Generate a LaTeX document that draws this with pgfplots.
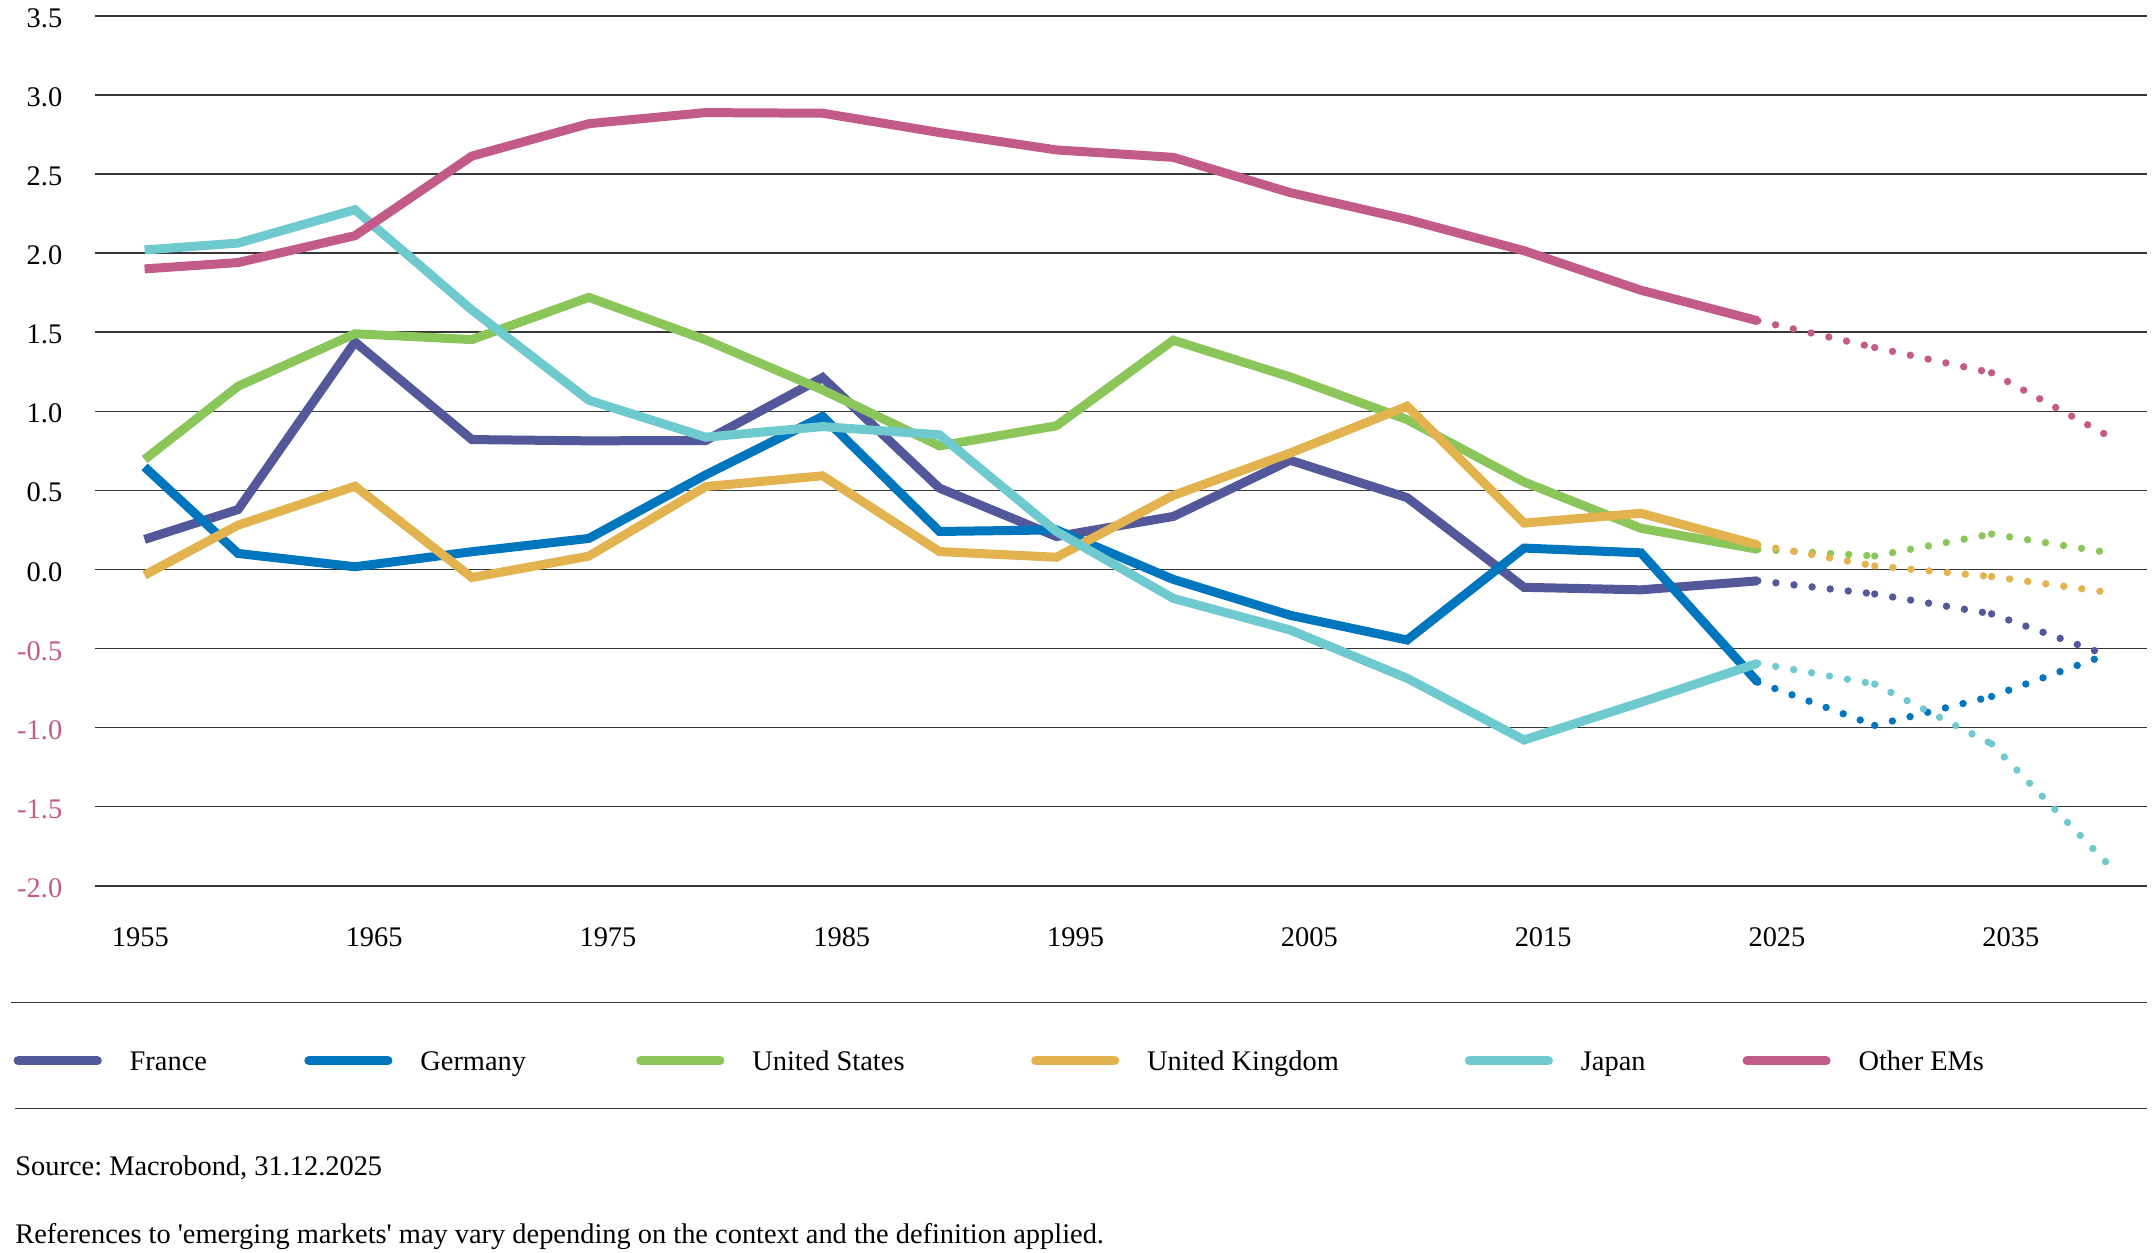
\documentclass[border=0pt]{standalone}
\usepackage{fontspec}
\setmainfont{Liberation Serif}
\usepackage{pgfplots}
\pgfplotsset{compat=1.18}
\definecolor{cfr}{RGB}{82,88,154}
\definecolor{cde}{RGB}{0,118,190}
\definecolor{cus}{RGB}{139,198,90}
\definecolor{cuk}{RGB}{226,179,78}
\definecolor{cjp}{RGB}{111,202,208}
\definecolor{cem}{RGB}{194,91,136}
\definecolor{neg}{RGB}{194,91,136}
\definecolor{gridc}{RGB}{55,55,55}
\newcommand\fs{\fontsize{14.2bp}{17bp}\selectfont}
\newcommand\lent[2]{\makebox[#1][l]{\raisebox{0pt}[0.66em][0pt]{#2}}}
\pgfplotsset{
  solidl/.style={line width=4.5bp},
  proj/.style={line width=3.7bp, line cap=round, dash pattern=on 0bp off 9.1bp, unbounded coords=jump, forget plot},
}
\frenchspacing
\begin{document}
\frenchspacing
\begin{tikzpicture}[font=\fs]
\path[use as bounding box] (-47.5bp,-183.6bp) rectangle (1029.5bp,442.9bp);
\begin{axis}[
  at={(0bp,0bp)}, anchor=south west,
  scale only axis, width=1026bp, height=435bp,
  xmin=1953.88, xmax=2041.65, ymin=-2, ymax=3.5,
  axis line style={draw=none},
  major tick length=0pt,
  ymajorgrids, grid style={line width=0.75bp, color=gridc},
  xtick={1955.82,1965.82,1975.82,1985.82,1995.82,2005.82,2015.82,2025.82,2035.82},
  xticklabels={1955,1965,1975,1985,1995,2005,2015,2025,2035},
  ytick={-2,-1.5,-1,-0.5,0,0.5,1,1.5,2,2.5,3,3.5},
  yticklabels={{\color{neg}-2.0},{\color{neg}-1.5},{\color{neg}-1.0},{\color{neg}-0.5},0.0,0.5,1.0,1.5,2.0,2.5,3.0,3.5},
  tick label style={font=\fs},
  xticklabel style={anchor=base, inner sep=0pt, yshift=-30.5bp},
  yticklabel style={anchor=east, inner sep=0pt, xshift=-16.2bp, yshift=-1.2bp},
  legend columns=6,
  legend cell align=left,
  legend style={at={(rel axis cs:0,0)}, anchor=west, xshift=-40.9bp, yshift=-87.45bp,
    draw=none, fill=none, inner sep=0pt, column sep=0pt, row sep=0pt,
    nodes={inner sep=0pt, text depth=0pt}, font=\fs},
  legend image code/.code={\draw[#1, line width=4.6bp, line cap=round, solid] (0bp,0bp) -- (39.5bp,0bp); \path (53.5bp,0bp);},
]
% France
\addplot[cfr, solidl] coordinates {(1956,0.19) (1960,0.379) (1965,1.438) (1970,0.821) (1975,0.813) (1980,0.815) (1985,1.213) (1990,0.514) (1995,0.208) (2000,0.335) (2005,0.69) (2010,0.454) (2015,-0.113) (2020,-0.129) (2025,-0.072)};
\addlegendentry{\lent{87.3bp}{France}}
% Germany
\addplot[cde, solidl] coordinates {(1956,0.648) (1960,0.101) (1965,0.017) (1970,0.112) (1975,0.196) (1980,0.598) (1985,0.967) (1990,0.24) (1995,0.25) (2000,-0.063) (2005,-0.29) (2010,-0.446) (2015,0.135) (2020,0.105) (2025,-0.713)};
\addlegendentry{\lent{107.9bp}{Germany}}
% United States
\addplot[cus, solidl] coordinates {(1956,0.695) (1960,1.158) (1965,1.49) (1970,1.453) (1975,1.72) (1980,1.451) (1985,1.135) (1990,0.781) (1995,0.908) (2000,1.449) (2005,1.217) (2010,0.947) (2015,0.553) (2020,0.26) (2025,0.127)};
\addlegendentry{\lent{139.4bp}{United States}}
% United Kingdom
\addplot[cuk, solidl] coordinates {(1956,-0.036) (1960,0.28) (1965,0.526) (1970,-0.051) (1975,0.084) (1980,0.524) (1985,0.592) (1990,0.113) (1995,0.077) (2000,0.468) (2005,0.736) (2010,1.032) (2015,0.293) (2020,0.355) (2025,0.155)};
\addlegendentry{\lent{158.8bp}{United Kingdom}}
% Japan
\addplot[cjp, solidl] coordinates {(1956,2.02) (1960,2.063) (1965,2.274) (1970,1.64) (1975,1.07) (1980,0.836) (1985,0.903) (1990,0.851) (1995,0.24) (2000,-0.183) (2005,-0.383) (2010,-0.688) (2015,-1.078) (2020,-0.84) (2025,-0.593)};
\addlegendentry{\lent{80.8bp}{Japan}}
% Other EMs
\addplot[cem, solidl] coordinates {(1956,1.90) (1960,1.94) (1965,2.11) (1970,2.613) (1975,2.818) (1980,2.888) (1985,2.884) (1990,2.762) (1995,2.652) (2000,2.605) (2005,2.382) (2010,2.213) (2015,2.015) (2020,1.765) (2025,1.572)};
\addlegendentry{\lent{70bp}{Other EMs}}
% projections (dotted)
\addplot[cfr, proj] coordinates {(2025,-0.072) (2030,-0.155) (2030,nan) (2030,-0.155) (2035,-0.281) (2035,nan) (2035,-0.281) (2040,-0.545)};
\addplot[cde, proj] coordinates {(2025,-0.713) (2030,-0.986) (2030,nan) (2030,-0.986) (2035,-0.803) (2035,nan) (2035,-0.803) (2040,-0.535)};
\addplot[cus, proj] coordinates {(2025,0.127) (2030,0.085) (2030,nan) (2030,0.085) (2035,0.224) (2035,nan) (2035,0.224) (2040,0.106)};
\addplot[cuk, proj] coordinates {(2025,0.155) (2030,0.022) (2030,nan) (2030,0.022) (2035,-0.045) (2035,nan) (2035,-0.045) (2040,-0.145)};
\addplot[cjp, proj] coordinates {(2025,-0.593) (2030,-0.725) (2030,nan) (2030,-0.725) (2035,-1.103) (2035,nan) (2035,-1.103) (2040,-1.867)};
\addplot[cem, proj] coordinates {(2025,1.572) (2030,1.403) (2030,nan) (2030,1.403) (2035,1.243) (2035,nan) (2035,1.243) (2040,0.843)};
\end{axis}
\draw[line width=0.75bp, gridc] (-42bp,-58.45bp) -- (1026bp,-58.45bp);
\draw[line width=0.75bp, gridc] (-40bp,-111.25bp) -- (1026bp,-111.25bp);
\node[anchor=base west, inner sep=0pt, font=\fs\frenchspacing] at (-40bp,-145bp) {Source: Macrobond, 31.12.2025};
\node[anchor=base west, inner sep=0pt] at (-40bp,-178.6bp) {References to \textquotesingle emerging markets\textquotesingle\ may vary depending on the context and the definition applied.};
\end{tikzpicture}
\end{document}
